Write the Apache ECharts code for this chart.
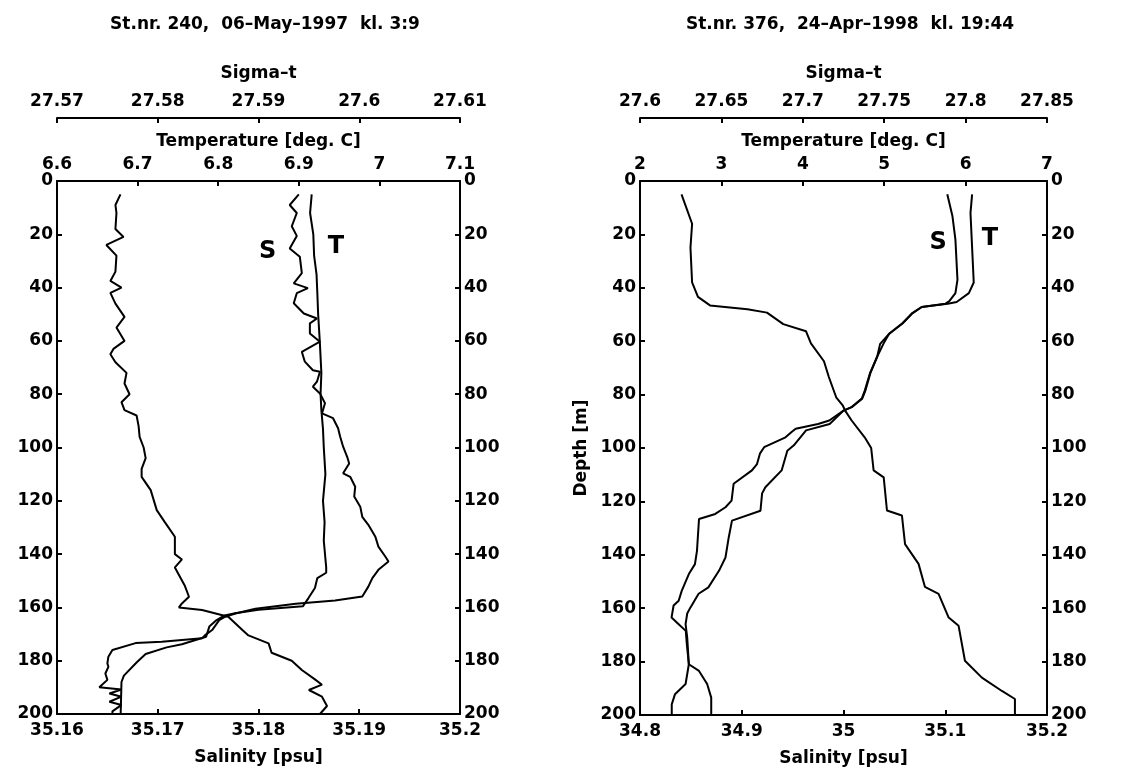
<!DOCTYPE html>
<html>
<head>
<meta charset="utf-8">
<title>CTD profiles</title>
<script src="https://cdn.jsdelivr.net/npm/echarts@6/dist/echarts.min.js"></script>
<style>
  html, body { margin: 0; padding: 0; background: #fff; }
  #chart { width: 1145px; height: 780px; }
</style>
</head>
<body>
<div id="chart"></div>
<script>
// St.nr. 240 (left panel)
var leftSigmaDepth = [5, 9, 12, 18, 21, 24, 28, 34, 37.5, 40, 42, 46, 51, 55, 60, 63, 65, 68, 72, 76, 80, 83, 86, 88, 92, 96, 100, 104, 108, 111, 116, 123.5, 128, 133.5, 140, 142, 145, 152, 156, 158.5, 160, 161, 163.5, 168.5, 170.5, 173.5, 177, 180, 183.5, 187, 189, 191, 193.5, 197, 200];
var leftSigma = [27.5763, 27.5758, 27.5759, 27.5758, 27.5766, 27.5749, 27.5759, 27.5758, 27.5753, 27.5764, 27.5753, 27.5758, 27.5767, 27.5759, 27.5767, 27.5756, 27.5753, 27.5758, 27.5769, 27.5767, 27.5772, 27.5764, 27.5767, 27.5779, 27.5781, 27.5782, 27.5786, 27.5788, 27.5784, 27.5784, 27.5793, 27.5799, 27.5807, 27.5817, 27.5817, 27.5824, 27.5817, 27.5827, 27.5831, 27.5824, 27.5821, 27.5844, 27.5870, 27.5884, 27.5890, 27.5910, 27.5913, 27.5933, 27.5943, 27.5956, 27.5963, 27.5950, 27.5963, 27.5968, 27.5961];

var leftSalDepth = [5, 9, 12, 17, 20.6, 25.3, 28.4, 34.6, 38.4, 40.2, 42.1, 45.9, 49.7, 51.6, 53.4, 57.2, 60.3, 64.1, 67.8, 71, 71.6, 75.3, 77.2, 79.7, 83.4, 87.2, 89, 92.8, 95.9, 99.7, 103.5, 106, 109.7, 111, 114.7, 118.4, 122.2, 126, 129, 133.5, 137.2, 141, 142.8, 145.9, 149, 152.2, 155.9, 157.4, 158.6, 160.5, 162.3, 163.5, 164.8, 168.5, 170.4, 171.6, 172.9, 173.4, 176, 178.5, 181, 182.3, 184.8, 187.2, 190, 190.8, 192.3, 193.5, 195.4, 196.6, 199, 200];
var leftSal = [35.1840, 35.1831, 35.1838, 35.1833, 35.1838, 35.1831, 35.1841, 35.1843, 35.1835, 35.1849, 35.1838, 35.1835, 35.1845, 35.1858, 35.1851, 35.1851, 35.1861, 35.1843, 35.1846, 35.1854, 35.1861, 35.1858, 35.1854, 35.1861, 35.1866, 35.1863, 35.1874, 35.1879, 35.1881, 35.1884, 35.1888, 35.1890, 35.1884, 35.1891, 35.1896, 35.1895, 35.1901, 35.1903, 35.1909, 35.1916, 35.1919, 35.1926, 35.1929, 35.1919, 35.1913, 35.1909, 35.1903, 35.1876, 35.1837, 35.1797, 35.1777, 35.1767, 35.1761, 35.1754, 35.1747, 35.1744, 35.1704, 35.1678, 35.1655, 35.1651, 35.1650, 35.1651, 35.1648, 35.1650, 35.1642, 35.1664, 35.1652, 35.1664, 35.1652, 35.1664, 35.1655, 35.1655];

var leftTempDepth = [5, 12, 20, 28, 35, 42, 50, 60, 72, 80, 86, 93, 100, 110, 120, 128, 135, 145, 147, 149, 152.7, 156.5, 159.6, 160.9, 162.2, 163, 165, 167.2, 171, 173.8, 175, 177.5, 180.6, 185.6, 188, 200];
var leftTemp = [6.916, 6.914, 6.918, 6.919, 6.922, 6.923, 6.924, 6.926, 6.928, 6.927, 6.928, 6.930, 6.931, 6.933, 6.930, 6.932, 6.931, 6.934, 6.934, 6.923, 6.920, 6.912, 6.905, 6.850, 6.821, 6.808, 6.797, 6.789, 6.785, 6.755, 6.736, 6.710, 6.699, 6.683, 6.680, 6.679];

// St.nr. 376 (right panel)
var rightSigmaDepth = [5, 16, 25, 38, 43.4, 46.6, 48, 49.3, 53.6, 56.3, 60.8, 67.5, 73.4, 81, 84, 86, 89.7, 96, 100, 108.4, 111, 123.4, 125.3, 136, 143.4, 152, 154.6, 163.5, 166.6, 179.7, 186, 191, 194, 200];
var rightSigma = [27.6255, 27.632, 27.631, 27.632, 27.6356, 27.643, 27.666, 27.678, 27.688, 27.702, 27.705, 27.713, 27.716, 27.7205, 27.7245, 27.726, 27.730, 27.738, 27.742, 27.7435, 27.7497, 27.7517, 27.7609, 27.7628, 27.7711, 27.775, 27.7834, 27.7896, 27.7957, 27.7996, 27.810, 27.8223, 27.8303, 27.8303];

var rightSalDepth = [5, 13, 22, 37, 42, 45, 46, 47.2, 49.7, 53.4, 57.2, 61, 66, 72, 78.4, 81.5, 84.7, 86, 89.7, 91, 92.8, 94, 96, 99.7, 102, 106, 108.4, 113.4, 119.7, 122.2, 124.7, 126.6, 138.5, 143.5, 147.2, 153.5, 157.2, 159, 163.5, 166, 168.5, 173.4, 181, 183.5, 188.4, 193.5, 200];
var rightSal = [35.102, 35.107, 35.110, 35.112, 35.110, 35.104, 35.100, 35.077, 35.067, 35.058, 35.045, 35.036, 35.033, 35.026, 35.021, 35.018, 35.008, 35.000, 34.986, 34.975, 34.953, 34.949, 34.943, 34.922, 34.918, 34.915, 34.910, 34.892, 34.890, 34.884, 34.874, 34.858, 34.856, 34.854, 34.848, 34.841, 34.838, 34.833, 34.831, 34.838, 34.845, 34.846, 34.848, 34.858, 34.866, 34.870, 34.870];

var rightTempDepth = [5, 12, 25, 38, 42, 45.3, 46, 47.2, 49.7, 53.4, 57.2, 61, 66, 72, 78.4, 81.5, 84.7, 86, 91, 93.4, 99, 101, 108.4, 114.7, 117, 123.5, 127.2, 133.5, 141, 146, 152.2, 154.6, 159.7, 162, 166, 171, 181, 188.4, 192.2, 196, 200];
var rightTemp = [6.08, 6.06, 6.08, 6.10, 6.04, 5.89, 5.78, 5.46, 5.34, 5.22, 5.06, 4.99, 4.91, 4.83, 4.77, 4.73, 4.60, 4.50, 4.33, 4.04, 3.89, 3.81, 3.74, 3.54, 3.50, 3.48, 3.13, 3.09, 3.05, 2.97, 2.84, 2.72, 2.62, 2.58, 2.56, 2.58, 2.60, 2.56, 2.43, 2.39, 2.39];

var depthTicks = [0, 200, 20];

function pairs(vals, depths) {
  return vals.map(function (v, i) { return [v, depths[i]]; });
}

var FONT = 'DejaVu Sans';
var txt = { color: '#000', fontFamily: FONT, fontSize: 17, fontWeight: 'bold' };

function xAx(grid, pos, min, max, step, name, gap, offset) {
  return {
    type: 'value', gridIndex: grid, position: pos, offset: offset || 0,
    min: min, max: max, interval: step,
    name: name, nameLocation: 'middle', nameGap: gap, nameTextStyle: txt,
    axisLine: { show: true, onZero: false, lineStyle: { color: '#000', width: 2 } },
    axisTick: { show: true, inside: true, length: 5, lineStyle: { color: '#000', width: 2 } },
    axisLabel: Object.assign({ margin: 8 }, txt),
    splitLine: { show: false }
  };
}

function yAx(grid, pos, name) {
  return {
    type: 'value', gridIndex: grid, position: pos, inverse: true,
    min: depthTicks[0], max: depthTicks[1], interval: depthTicks[2],
    name: name || '', nameLocation: 'middle', nameGap: 50, nameTextStyle: txt,
    axisLine: { show: true, onZero: false, lineStyle: { color: '#000', width: 2 } },
    axisTick: { show: true, inside: true, length: 5, lineStyle: { color: '#000', width: 2 } },
    axisLabel: Object.assign({ margin: 4 }, txt),
    splitLine: { show: false }
  };
}

function profile(vals, depths, xi, yi, tag) {
  var s = {
    type: 'line', xAxisIndex: xi, yAxisIndex: yi,
    data: pairs(vals, depths),
    showSymbol: false, symbol: 'none', silent: true,
    lineStyle: { color: '#000', width: 2 }
  };
  if (tag) {
    s.markPoint = {
      symbol: 'circle', symbolSize: 10,
      itemStyle: { color: 'rgba(0,0,0,0)' },
      label: { show: true, position: 'inside', formatter: tag.text, color: '#000',
               fontFamily: 'DejaVu Sans', fontWeight: 'bold', fontSize: 24 },
      data: [{ coord: tag.coord }]
    };
  }
  return s;
}

var chart = echarts.init(document.getElementById('chart'));
chart.setOption({
  animation: false,
  backgroundColor: '#fff',
  title: [
    { text: 'St.nr. 240,  06–May–1997  kl. 3:9', left: 260, top: 11, textAlign: 'center',
      textStyle: { color: '#000', fontFamily: FONT, fontSize: 17, fontWeight: 'bold' } },
    { text: 'St.nr. 376,  24–Apr–1998  kl. 19:44', left: 845, top: 11, textAlign: 'center',
      textStyle: { color: '#000', fontFamily: FONT, fontSize: 17, fontWeight: 'bold' } }
  ],
  grid: [
    { left: 57, top: 181, width: 403, height: 533 },
    { left: 640, top: 181, width: 407, height: 534 }
  ],
  xAxis: [
    xAx(0, 'bottom', 35.16, 35.2, 0.01, 'Salinity [psu]', 35),
    xAx(0, 'top', 6.6, 7.1, 0.1, 'Temperature [deg. C]', 31),
    xAx(0, 'top', 27.57, 27.61, 0.01, 'Sigma–t', 36, 63),
    xAx(1, 'bottom', 34.8, 35.2, 0.1, 'Salinity [psu]', 35),
    xAx(1, 'top', 2, 7, 1, 'Temperature [deg. C]', 31),
    xAx(1, 'top', 27.6, 27.85, 0.05, 'Sigma–t', 36, 63)
  ],
  yAxis: [
    yAx(0, 'left'),
    yAx(0, 'right'),
    yAx(1, 'left', 'Depth [m]'),
    yAx(1, 'right')
  ],
  series: [
    profile(leftSigma, leftSigmaDepth, 2, 0),
    profile(leftSal, leftSalDepth, 0, 0, { text: 'S', coord: [35.1809, 26.5] }),
    profile(leftTemp, leftTempDepth, 1, 0, { text: 'T', coord: [6.946, 24.5] }),
    profile(rightSigma, rightSigmaDepth, 5, 2),
    profile(rightSal, rightSalDepth, 3, 2, { text: 'S', coord: [35.093, 23.3] }),
    profile(rightTemp, rightTempDepth, 4, 2, { text: 'T', coord: [6.30, 21.5] })
  ]
});
</script>
</body>
</html>
